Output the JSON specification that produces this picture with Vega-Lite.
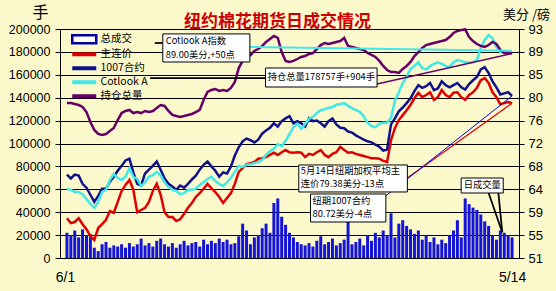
{
"$schema": "https://vega.github.io/schema/vega-lite/v6.json",
"width": 459, "height": 229,
"autosize": {"type": "none"},
"padding": {"left": 60, "top": 29, "right": 37, "bottom": 33},
"background": "#fbf8cc",
"config": {"view": {"stroke": "black", "strokeWidth": 1, "fill": "#fbf8cc"}, "font": "Noto Sans CJK SC"},
"title": {"text": "纽约棉花期货日成交情况", "fontSize": 17, "font": "Noto Sans CJK SC", "fontWeight": "bold", "color": "#cc0000", "anchor": "middle", "frame": "group", "baseline": "bottom", "dx": -12, "dy": 48, "offset": 4},
"datasets": {
"d": [
{"i":0,"v":22000,"oi":135400,"p":58.3,"c":66.3,"a":63.7},
{"i":1,"v":20000,"oi":135400,"p":57.4,"c":65.6,"a":63.5},
{"i":2,"v":24000,"oi":134500,"p":57.6,"c":66.3,"a":63.1},
{"i":3,"v":18000,"oi":133600,"p":58.3,"c":66.1,"a":63.1},
{"i":4,"v":25000,"oi":131900,"p":57.2,"c":64.6,"a":62.7},
{"i":5,"v":20000,"oi":127500,"p":56.3,"c":63.9,"a":61.8},
{"i":6,"v":21000,"oi":118800,"p":55.0,"c":62.6,"a":60.9},
{"i":7,"v":9000,"oi":111800,"p":54.3,"c":61.3,"a":60.2},
{"i":8,"v":6000,"oi":108300,"p":56.5,"c":62.4,"a":61.3},
{"i":9,"v":12000,"oi":107400,"p":57.2,"c":63.7,"a":63.1},
{"i":10,"v":14000,"oi":108300,"p":58.0,"c":63.7,"a":63.5},
{"i":11,"v":9000,"oi":110900,"p":59.6,"c":65.0,"a":65.3},
{"i":12,"v":11000,"oi":113500,"p":59.3,"c":65.9,"a":66.4},
{"i":13,"v":10000,"oi":120500,"p":61.3,"c":67.0,"a":65.7},
{"i":14,"v":12000,"oi":126600,"p":63.3,"c":67.9,"a":65.3},
{"i":15,"v":9000,"oi":128400,"p":64.4,"c":68.9,"a":65.9},
{"i":16,"v":13000,"oi":129300,"p":65.3,"c":69.2,"a":67.5},
{"i":17,"v":10000,"oi":126600,"p":63.5,"c":66.7,"a":65.9},
{"i":18,"v":12000,"oi":127500,"p":59.4,"c":64.6,"a":65.5},
{"i":19,"v":17000,"oi":126600,"p":59.8,"c":64.3,"a":64.2},
{"i":20,"v":11000,"oi":128400,"p":60.2,"c":66.5,"a":64.9},
{"i":21,"v":13000,"oi":127500,"p":61.3,"c":67.2,"a":65.9},
{"i":22,"v":10000,"oi":128400,"p":63.3,"c":67.9,"a":66.2},
{"i":23,"v":15000,"oi":131000,"p":64.6,"c":68.7,"a":66.8},
{"i":24,"v":17000,"oi":133600,"p":62.6,"c":67.2,"a":66.1},
{"i":25,"v":12000,"oi":132800,"p":59.4,"c":65.6,"a":64.9},
{"i":26,"v":10000,"oi":128400,"p":58.5,"c":64.6,"a":64.0},
{"i":27,"v":13000,"oi":124900,"p":58.5,"c":64.1,"a":63.5},
{"i":28,"v":9000,"oi":124000,"p":57.8,"c":63.5,"a":63.3},
{"i":29,"v":12000,"oi":123200,"p":58.1,"c":64.3,"a":62.7},
{"i":30,"v":15000,"oi":124000,"p":59.1,"c":63.9,"a":62.9},
{"i":31,"v":11000,"oi":124900,"p":60.2,"c":64.6,"a":63.5},
{"i":32,"v":13000,"oi":125800,"p":61.1,"c":65.4,"a":63.5},
{"i":33,"v":14000,"oi":127500,"p":62.2,"c":66.1,"a":63.7},
{"i":34,"v":10000,"oi":129300,"p":62.9,"c":67.2,"a":64.4},
{"i":35,"v":16000,"oi":138000,"p":63.7,"c":68.1,"a":64.9},
{"i":36,"v":12000,"oi":145000,"p":64.6,"c":68.7,"a":65.5},
{"i":37,"v":15000,"oi":146700,"p":63.8,"c":67.8,"a":65.9},
{"i":38,"v":13000,"oi":147600,"p":63.1,"c":67.0,"a":65.1},
{"i":39,"v":17000,"oi":145900,"p":62.2,"c":65.9,"a":64.6},
{"i":40,"v":14000,"oi":146700,"p":61.1,"c":66.7,"a":64.2},
{"i":41,"v":16000,"oi":145900,"p":62.0,"c":66.5,"a":64.9},
{"i":42,"v":12000,"oi":148500,"p":62.9,"c":67.8,"a":65.7},
{"i":43,"v":13000,"oi":153700,"p":64.6,"c":69.8,"a":66.8},
{"i":44,"v":19000,"oi":165900,"p":66.8,"c":71.3,"a":67.9},
{"i":45,"v":30000,"oi":172100,"p":67.5,"c":72.4,"a":67.7},
{"i":46,"v":24000,"oi":174700,"p":68.2,"c":72.9,"a":68.1},
{"i":47,"v":12000,"oi":177300,"p":68.4,"c":72.6,"a":68.2},
{"i":48,"v":18000,"oi":180800,"p":68.6,"c":72.2,"a":68.4},
{"i":49,"v":20000,"oi":182500,"p":69.2,"c":72.7,"a":68.6},
{"i":50,"v":26000,"oi":185200,"p":69.3,"c":73.8,"a":69.0},
{"i":51,"v":30000,"oi":188700,"p":69.5,"c":74.4,"a":69.9},
{"i":52,"v":22000,"oi":191300,"p":69.9,"c":74.9,"a":70.6},
{"i":53,"v":48000,"oi":193900,"p":70.3,"c":75.7,"a":71.0},
{"i":54,"v":52000,"oi":192200,"p":69.9,"c":75.1,"a":71.9},
{"i":55,"v":36000,"oi":179900,"p":70.4,"c":76.1,"a":71.5},
{"i":56,"v":29000,"oi":172100,"p":70.8,"c":76.6,"a":72.5},
{"i":57,"v":22000,"oi":171200,"p":70.4,"c":77.0,"a":73.7},
{"i":58,"v":18000,"oi":172100,"p":70.3,"c":75.7,"a":75.0},
{"i":59,"v":14000,"oi":173800,"p":70.4,"c":76.1,"a":75.6},
{"i":60,"v":12000,"oi":175600,"p":70.3,"c":75.7,"a":74.7},
{"i":61,"v":11000,"oi":176400,"p":69.5,"c":75.1,"a":75.6},
{"i":62,"v":13000,"oi":178200,"p":70.1,"c":76.6,"a":76.5},
{"i":63,"v":10000,"oi":179000,"p":69.9,"c":76.1,"a":76.9},
{"i":64,"v":15000,"oi":182500,"p":70.4,"c":76.2,"a":77.6},
{"i":65,"v":19000,"oi":186000,"p":70.8,"c":75.7,"a":78.1},
{"i":66,"v":12000,"oi":187800,"p":69.9,"c":75.1,"a":78.3},
{"i":67,"v":14000,"oi":186900,"p":69.5,"c":76.1,"a":78.5},
{"i":68,"v":17000,"oi":187800,"p":70.1,"c":76.6,"a":78.7},
{"i":69,"v":11000,"oi":188700,"p":70.4,"c":75.5,"a":79.1},
{"i":70,"v":13000,"oi":189500,"p":71.4,"c":74.9,"a":79.2},
{"i":71,"v":16000,"oi":192200,"p":70.8,"c":74.8,"a":79.4},
{"i":72,"v":36000,"oi":185200,"p":70.3,"c":74.2,"a":78.9},
{"i":73,"v":12000,"oi":184300,"p":70.4,"c":74.0,"a":78.5},
{"i":74,"v":14000,"oi":183400,"p":70.1,"c":73.5,"a":78.1},
{"i":75,"v":17000,"oi":182500,"p":69.9,"c":73.1,"a":77.8},
{"i":76,"v":11000,"oi":181700,"p":69.7,"c":72.7,"a":77.0},
{"i":77,"v":20000,"oi":179000,"p":69.5,"c":72.4,"a":75.8},
{"i":78,"v":15000,"oi":177300,"p":69.3,"c":72.2,"a":75.2},
{"i":79,"v":22000,"oi":175600,"p":69.3,"c":71.8,"a":75.0},
{"i":80,"v":18000,"oi":172100,"p":69.2,"c":71.4,"a":75.6},
{"i":81,"v":24000,"oi":167700,"p":68.8,"c":70.7,"a":75.8},
{"i":82,"v":20000,"oi":164200,"p":68.6,"c":70.9,"a":75.8},
{"i":83,"v":39000,"oi":162400,"p":72.6,"c":75.5,"a":76.7},
{"i":84,"v":18000,"oi":162400,"p":74.8,"c":76.6,"a":79.8},
{"i":85,"v":30000,"oi":161600,"p":76.3,"c":77.9,"a":81.4},
{"i":86,"v":33000,"oi":165100,"p":77.2,"c":78.6,"a":83.1},
{"i":87,"v":28000,"oi":167700,"p":78.1,"c":79.4,"a":84.2},
{"i":88,"v":25000,"oi":171200,"p":79.1,"c":80.3,"a":85.7},
{"i":89,"v":21000,"oi":176400,"p":80.3,"c":81.6,"a":86.2},
{"i":90,"v":24000,"oi":179900,"p":81.3,"c":82.7,"a":86.9},
{"i":91,"v":16000,"oi":183400,"p":80.5,"c":82.2,"a":85.8},
{"i":92,"v":20000,"oi":186000,"p":80.9,"c":82.5,"a":85.6},
{"i":93,"v":14000,"oi":186900,"p":81.4,"c":83.1,"a":86.2},
{"i":94,"v":18000,"oi":187800,"p":80.0,"c":81.8,"a":86.6},
{"i":95,"v":12000,"oi":188700,"p":80.5,"c":82.1,"a":86.9},
{"i":96,"v":16000,"oi":189500,"p":81.8,"c":83.4,"a":86.6},
{"i":97,"v":13000,"oi":190400,"p":80.9,"c":82.7,"a":86.2},
{"i":98,"v":20000,"oi":193000,"p":80.5,"c":82.3,"a":86.0},
{"i":99,"v":24000,"oi":196500,"p":81.3,"c":82.7,"a":86.9},
{"i":100,"v":33000,"oi":198300,"p":81.4,"c":83.1,"a":87.3},
{"i":101,"v":18000,"oi":199100,"p":80.5,"c":82.3,"a":87.1},
{"i":102,"v":52000,"oi":199600,"p":80.0,"c":81.9,"a":86.9},
{"i":103,"v":47000,"oi":193000,"p":80.9,"c":82.9,"a":86.8},
{"i":104,"v":44000,"oi":189500,"p":81.4,"c":83.6,"a":86.9},
{"i":105,"v":42000,"oi":186900,"p":82.2,"c":84.2,"a":87.3},
{"i":106,"v":38000,"oi":185200,"p":83.6,"c":85.6,"a":89.5},
{"i":107,"v":32000,"oi":184300,"p":84.0,"c":86.0,"a":91.0},
{"i":108,"v":28000,"oi":186000,"p":83.1,"c":84.9,"a":91.9},
{"i":109,"v":20000,"oi":188700,"p":81.4,"c":83.4,"a":91.3},
{"i":110,"v":16000,"oi":186900,"p":80.5,"c":82.3,"a":89.7},
{"i":111,"v":24000,"oi":181700,"p":79.2,"c":81.0,"a":88.8},
{"i":112,"v":22000,"oi":179000,"p":79.4,"c":81.2,"a":88.6},
{"i":113,"v":20000,"oi":179000,"p":79.6,"c":81.4,"a":88.8},
{"i":114,"v":18000,"oi":178757,"p":79.38,"c":80.72,"a":89.0}
],
"boxes": [
{"x1":24.55,"x2":46.85,"y1":92.1,"y2":86.95},
{"x1":50.86,"x2":79.43,"y1":85.85,"y2":82.36},
{"x1":59.38,"x2":87.19,"y1":68.06,"y2":63.11},
{"x1":62.39,"x2":81.68,"y1":62.74,"y2":57.6},
{"x1":100.97,"x2":111.74,"y1":65.67,"y2":62.92}
],
"texts": [
{"x":25.3,"y":90.8,"t":"Cotlook A指数"},
{"x":25.3,"y":88.23,"t":"89.00美分,+50点"},
{"x":51.4,"y":84.11,"t":"持仓总量178757手+904手"},
{"x":59.9,"y":66.96,"t":"5月14日纽期加权平均主"},
{"x":59.9,"y":64.57,"t":"连价79.38美分-13点"},
{"x":62.9,"y":61.45,"t":"纽期1007合约"},
{"x":62.9,"y":59.07,"t":"80.72美分-4点"},
{"x":101.6,"y":64.3,"t":"日成交量"}
],
"leaders": [
{"k":"cot","x1":46.85,"y1":89.7,"x2":114,"y2":89.0},
{"k":"blk","x1":22.5,"y1":90.43,"x2":24.55,"y2":90.43},
{"k":"blk","x1":21.3,"y1":84.01,"x2":50.86,"y2":84.01},
{"k":"oi","x1":79.43,"y1":82.9,"x2":114,"y2":88.5},
{"k":"p","x1":87.19,"y1":65.67,"x2":114,"y2":79.38},
{"k":"c","x1":81.68,"y1":62.4,"x2":114,"y2":80.72},
{"k":"blk","x1":108.0,"y1":62.92,"x2":111.5,"y2":55.7},
{"k":"blk","x1":110.5,"y1":62.92,"x2":111.5,"y2":55.7}
]
},
"layer": [
{"data": {"name": "d"}, "mark": {"type": "bar", "size": 3, "color": "#1414d4"},
 "encoding": {
  "x": {"field": "i", "type": "quantitative", "scale": {"domain": [-0.5, 114.5], "nice": false, "zero": false},
   "axis": {"values": [-0.5, 114], "labelExpr": "datum.value < 0 ? '6/1' : '5/14'", "ticks": false, "domain": false, "grid": false, "title": null, "labelFontSize": 14, "labelPadding": 12, "labelFont": "Liberation Sans", "labelFlush": false, "labelColor": "black"}},
  "y": {"field": "v", "type": "quantitative", "scale": {"domain": [0, 200000], "nice": false},
   "axis": {"orient": "left", "values": [0,20000,40000,60000,80000,100000,120000,140000,160000,180000,200000], "format": "d", "grid": true, "gridColor": "black", "gridWidth": 1, "gridOpacity": 1, "domain": false, "tickSize": 5, "tickColor": "black", "labelPadding": 5, "labelFontSize": 12.5, "labelFont": "Liberation Sans", "labelColor": "black", "title": "手", "titleAngle": 0, "titleX": -20, "titleY": -17, "titleAlign": "center", "titleBaseline": "middle", "titleFontSize": 16, "titleFontWeight": "normal", "titleFont": "Noto Sans CJK SC", "titleColor": "black"}}
 }},
{"data": {"name": "d"}, "mark": {"type": "line", "strokeWidth": 2.5},
 "encoding": {
  "x": {"field": "i", "type": "quantitative"},
  "y": {"field": "p", "type": "quantitative", "scale": {"domain": [51, 93], "nice": false, "zero": false},
   "axis": {"orient": "right", "values": [51,55.2,59.4,63.6,67.8,72,76.2,80.4,84.6,88.8,93], "format": ".0f", "grid": false, "domain": false, "tickSize": 5, "tickColor": "black", "labelPadding": 4, "labelFontSize": 13, "labelFont": "Liberation Sans", "labelColor": "black", "title": "美分 /磅", "titleAngle": 0, "titleX": 7, "titleY": -15, "titleAlign": "center", "titleBaseline": "middle", "titleFontSize": 13, "titleFontWeight": "normal", "titleFont": "Noto Sans CJK SC", "titleColor": "black"}},
  "color": {"datum": "主连价", "type": "nominal",
   "scale": {"domain": ["总成交", "主连价", "1007合约", "Cotlook A", "持仓总量"], "range": ["#00009c", "#e00000", "#10108a", "#40e8e8", "#660066"]},
   "legend": {"orient": "none", "legendX": 19, "legendY": 5, "title": null, "direction": "vertical", "symbolType": "M-4,0H4", "symbolSize": 36, "symbolStrokeWidth": 4, "labelFont": "Noto Sans CJK SC", "labelFontSize": 10.5, "labelColor": "black", "labelOffset": 11, "rowPadding": -3.7, "padding": 0,
    "encode": {"symbols": {"update": {
     "shape": {"signal": "datum.value === '总成交' ? 'M-4,-1.35H4V1.35H-4Z' : 'M-4,0H4'"},
     "fill": {"signal": "datum.value === '总成交' ? '#ffffff' : 'transparent'"},
     "strokeWidth": {"signal": "datum.value === '总成交' ? 2.5 : 4"}}}}}}
 }},
{"data": {"name": "d"}, "mark": {"type": "line", "strokeWidth": 2.5},
 "encoding": {
  "x": {"field": "i", "type": "quantitative"},
  "y": {"field": "c", "type": "quantitative", "scale": {"domain": [51, 93], "nice": false, "zero": false}, "axis": null},
  "color": {"datum": "1007合约", "type": "nominal"}
 }},
{"data": {"name": "d"}, "mark": {"type": "line", "strokeWidth": 2.5},
 "encoding": {
  "x": {"field": "i", "type": "quantitative"},
  "y": {"field": "a", "type": "quantitative", "scale": {"domain": [51, 93], "nice": false, "zero": false}, "axis": null},
  "color": {"datum": "Cotlook A", "type": "nominal"}
 }},
{"data": {"name": "d"}, "mark": {"type": "line", "strokeWidth": 2.5},
 "encoding": {
  "x": {"field": "i", "type": "quantitative"},
  "y": {"field": "oi", "type": "quantitative", "scale": {"domain": [0, 200000], "nice": false, "zero": false}, "axis": null},
  "color": {"datum": "持仓总量", "type": "nominal"}
 }},
{"data": {"name": "leaders"}, "mark": {"type": "rule"},
 "encoding": {
  "x": {"field": "x1", "type": "quantitative"},
  "x2": {"field": "x2"},
  "y": {"field": "y1", "type": "quantitative", "scale": {"domain": [51, 93], "nice": false, "zero": false}, "axis": null},
  "y2": {"field": "y2"},
  "stroke": {"field": "k", "type": "nominal", "scale": {"domain": ["cot", "blk", "oi", "p", "c"], "range": ["#40e8e8", "#000000", "#660066", "#e00000", "#0000ee"]}, "legend": null},
  "strokeWidth": {"field": "k", "type": "nominal", "scale": {"domain": ["cot", "blk", "oi", "p", "c"], "range": [2, 1, 2, 2, 2]}, "legend": null}
 }},
{"data": {"name": "boxes"}, "mark": {"type": "rect", "fill": "white", "stroke": "black", "strokeWidth": 1},
 "encoding": {
  "x": {"field": "x1", "type": "quantitative"},
  "x2": {"field": "x2"},
  "y": {"field": "y1", "type": "quantitative", "scale": {"domain": [51, 93], "nice": false, "zero": false}, "axis": null},
  "y2": {"field": "y2"}
 }},
{"data": {"name": "texts"}, "mark": {"type": "text", "align": "left", "baseline": "middle", "fontSize": 9.3, "font": "Noto Sans CJK SC", "color": "black"},
 "encoding": {
  "x": {"field": "x", "type": "quantitative"},
  "y": {"field": "y", "type": "quantitative", "scale": {"domain": [51, 93], "nice": false, "zero": false}, "axis": null},
  "text": {"field": "t"}
 }}
],
"resolve": {"scale": {"y": "independent"}}
}
